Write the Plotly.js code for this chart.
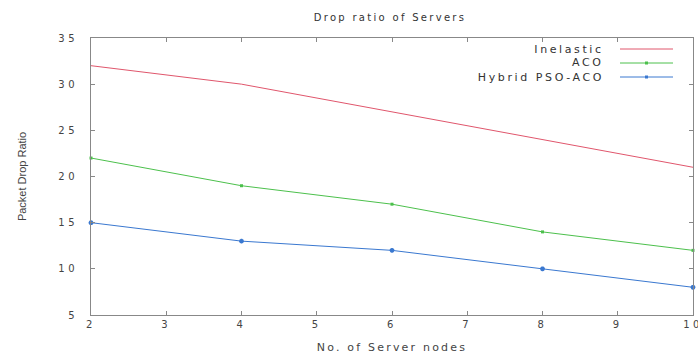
<!DOCTYPE html>
<html><head><meta charset="utf-8">
<script src="https://cdn.plot.ly/plotly-3.0.1.min.js"></script>
<style>
html,body{margin:0;padding:0;background:#fff}#c{width:698px;height:360px}
#c .gtitle{letter-spacing:2.3px}
#c .xtick text,#c .ytick text{letter-spacing:3.5px}
#c .xtitle{letter-spacing:2.2px}
#c .annotation-text{letter-spacing:2.6px}
</style>
</head><body><div id="c"></div>
<script>
var nodes = [2, 4, 6, 8, 10];
var inelastic = [32, 30, 27, 24, 21];
var aco = [22, 19, 17, 14, 12];
var hybrid = [15, 13, 12, 10, 8];
var seriesNames = ['Inelastic', 'ACO', 'Hybrid PSO-ACO'];
var xTicks = [2, 3, 4, 5, 6, 7, 8, 9, 10];
var yTicks = [5, 10, 15, 20, 25, 30, 35];
var colors = ['#e0566c', '#4cc04c', '#3a78d0'];

var font = 'DejaVu Sans, sans-serif';
var traces = [
  {x: nodes, y: inelastic, mode: 'lines', line: {color: colors[0], width: 1}, name: seriesNames[0], cliponaxis: false},
  {x: nodes, y: aco, mode: 'lines+markers', line: {color: colors[1], width: 1}, marker: {symbol: 'square', size: 3, color: colors[1]}, name: seriesNames[1], cliponaxis: false},
  {x: nodes, y: hybrid, mode: 'lines+markers', line: {color: colors[2], width: 1}, marker: {symbol: 'asterisk', size: 4, color: colors[2], line: {color: colors[2], width: 1.5}}, name: seriesNames[2], cliponaxis: false}
];

var legY = [49, 63, 77];
var shapes = [], annotations = [];
for (var i = 0; i < 3; i++) {
  shapes.push({type: 'line', xref: 'paper', yref: 'paper', x0: (620 - 91) / 602, x1: (673 - 91) / 602,
    y0: (315 - legY[i]) / 277, y1: (315 - legY[i]) / 277, line: {color: colors[i], width: 1}});
  if (i > 0) {
    shapes.push({type: 'rect', xref: 'paper', yref: 'paper', x0: (645 - 91) / 602, x1: (648 - 91) / 602,
      y0: (315 - legY[i] - 1.5) / 277, y1: (315 - legY[i] + 1.5) / 277, fillcolor: colors[i], line: {width: 0}});
  }
  var rightEdge = 606 - seriesNames[i].length * 1.3;
  annotations.push({xref: 'paper', yref: 'paper', x: (rightEdge - 91) / 602, y: (315 - legY[i]) / 277,
    xanchor: 'right', yanchor: 'middle', showarrow: false, text: seriesNames[i],
    font: {family: font, size: 11, color: '#333'}});
}

var layout = {
  width: 698, height: 360,
  margin: {l: 91, r: 5, t: 38, b: 45},
  paper_bgcolor: '#fff', plot_bgcolor: '#fff',
  showlegend: false,
  title: {text: 'Drop ratio of Servers', x: 390 / 698, xanchor: 'center', y: 1 - 17 / 360, yanchor: 'middle',
    font: {family: font, size: 10, color: '#333'}},
  xaxis: {range: [2, 10], tickmode: 'array', tickvals: xTicks, ticktext: xTicks.map(String), showgrid: false, zeroline: false,
    showline: true, linecolor: '#888', linewidth: 1, mirror: 'ticks', ticks: 'inside', ticklen: 4, tickcolor: '#888',
    ticklabeloverflow: 'allow',
    tickfont: {family: font, size: 10, color: '#444'},
    title: {text: 'No. of Server nodes', standoff: 14, font: {family: font, size: 11, color: '#444'}}},
  yaxis: {range: [5, 35], tickmode: 'array', tickvals: yTicks, ticktext: yTicks.map(String), showgrid: false, zeroline: false,
    showline: true, linecolor: '#888', linewidth: 1, mirror: 'ticks', ticks: 'inside', ticklen: 4, tickcolor: '#888',
    ticklabeloverflow: 'allow',
    tickfont: {family: font, size: 10, color: '#444'}, ticklabelstandoff: 10,
    title: {text: 'Packet Drop Ratio', standoff: 36, font: {family: 'Liberation Sans Narrow, Liberation Sans, sans-serif', size: 11, color: '#444'}}},
  shapes: shapes, annotations: annotations
};
Plotly.newPlot('c', traces, layout, {displayModeBar: false, staticPlot: true});
</script></body></html>
